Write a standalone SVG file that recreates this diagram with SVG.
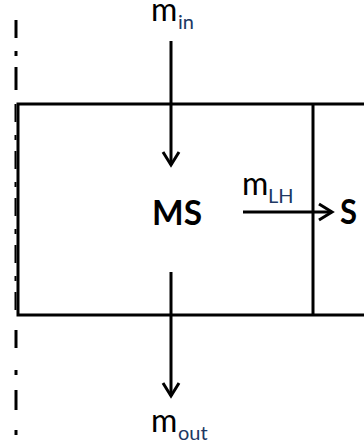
<svg xmlns="http://www.w3.org/2000/svg" width="364" height="443" viewBox="0 0 364 443">
<style>
.ln{stroke:#000;stroke-width:3;fill:none}
.dd{stroke:#000;stroke-width:3;fill:none}
.t{font-family:Lato,"Liberation Sans",sans-serif;fill:#000}
.m{font-size:32px}
.sub{font-size:20px;fill:#203864}
.b{font-size:35px;font-weight:bold}
</style>
<defs>
<marker id="ah" markerUnits="userSpaceOnUse" markerWidth="30" markerHeight="30" refX="0" refY="0" viewBox="-15 -15 30 30" orient="auto" overflow="visible">
<path d="M-13,-8 L0,0 L-13,8" fill="none" stroke="#000" stroke-width="3" stroke-linejoin="miter"/>
</marker>
</defs>
<rect width="364" height="443" fill="#fff"/>
<g id="symmetry-axis">
<line class="dd" x1="16" y1="20" x2="16" y2="38"/>
<line class="dd" x1="16" y1="51" x2="16" y2="56"/>
<line class="dd" x1="16" y1="67" x2="16" y2="90"/>
<line x1="15.5" y1="104" x2="15.5" y2="315" stroke="#000" stroke-width="2" stroke-dasharray="18 13 5 11"/>
<line class="dd" x1="16" y1="330" x2="16" y2="348"/>
<line class="dd" x1="16" y1="370" x2="16" y2="375"/>
<line class="dd" x1="16" y1="390" x2="16" y2="410"/>
<line class="dd" x1="16" y1="430" x2="16" y2="435"/>
</g>
<g id="MS">
<path class="ln" d="M364,104 H18 V315 H364"/>
<text class="t b" x="152" y="225" textLength="50" lengthAdjust="spacingAndGlyphs">MS</text>
</g>
<g id="S">
<line class="ln" x1="313" y1="104" x2="313" y2="315"/>
<text class="t b" x="340" y="224" textLength="17" lengthAdjust="spacingAndGlyphs">S</text>
</g>
<g id="connectors">
<line class="ln" x1="171" y1="41" x2="171" y2="165" marker-end="url(#ah)"/>
<line class="ln" x1="171" y1="272" x2="171" y2="396" marker-end="url(#ah)"/>
<line class="ln" x1="243" y1="212" x2="332" y2="212" marker-end="url(#ah)"/>
</g>
<g id="labels">
<text class="t" x="151" y="21"><tspan class="m">m</tspan><tspan class="sub" x="178" y="29">in</tspan></text>
<text class="t" x="151" y="432"><tspan class="m">m</tspan><tspan class="sub" x="178" y="440">out</tspan></text>
<text class="t" x="242" y="195"><tspan class="m">m</tspan><tspan class="sub" x="268" y="203">LH</tspan></text>
</g>
</svg>
